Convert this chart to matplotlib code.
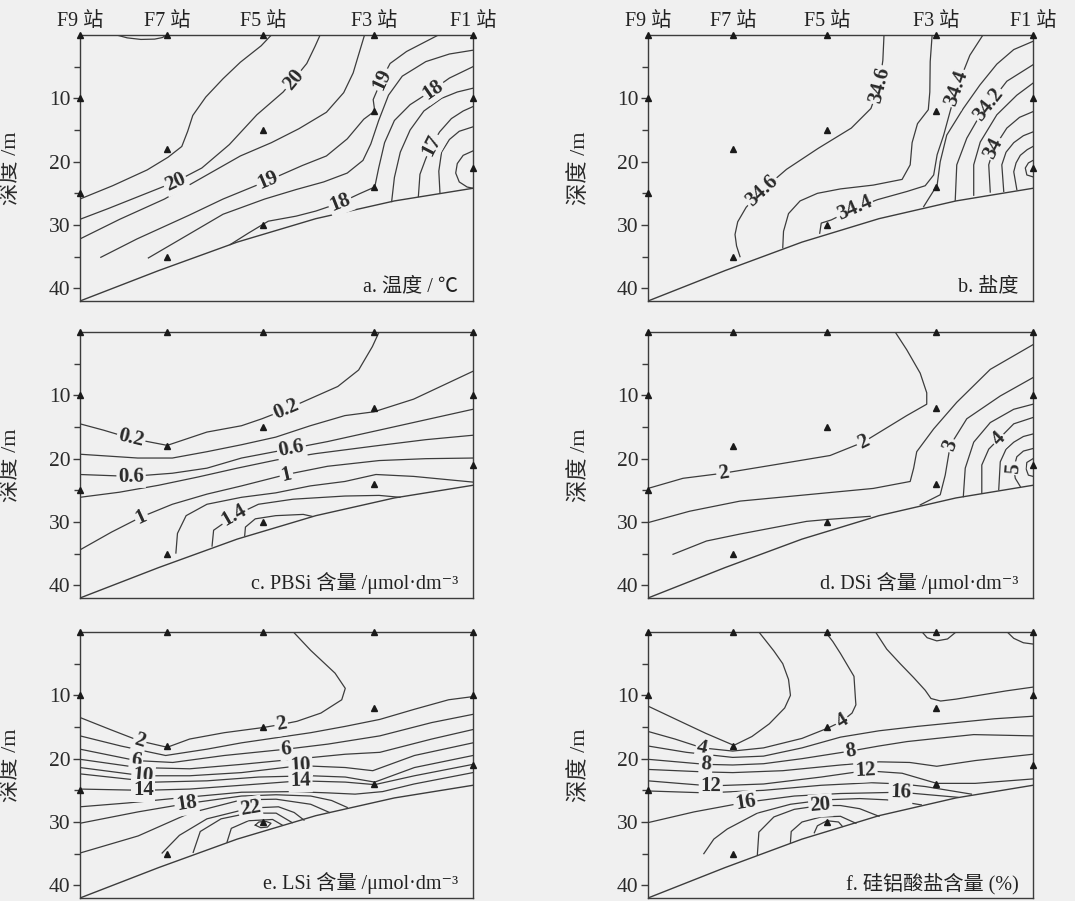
import numpy as np
import matplotlib.pyplot as plt

plt.rcParams['font.family'] = ['Liberation Serif', 'Noto Sans CJK SC', 'DejaVu Serif']

BG = '#f0f0f0'
INK = '#3c3c3c'

# 断面站位（横向距离按 F9=0、F1=100 归一）与采样深度
STATION_X = [0, 22.1, 46.6, 74.8, 100]
STATION_NAMES = ['F9 站', 'F7 站', 'F5 站', 'F3 站', 'F1 站']
SAMPLE_DEPTHS = [[0, 10, 25], [0, 18, 35], [0, 15, 30], [0, 12, 24], [0, 10, 21]]

# 海底地形
SEABED_X = [0, 20, 40, 60, 80, 100]
SEABED_D = [42, 37.2, 32.7, 29.0, 26.2, 24.2]

# 等值线: (数值, 距离, 深度, 标注点序号)
TEMP_LINES = [
    (21, [9.3, 12, 15.5, 19, 21, 21.9], [0, 0.45, 0.7, 0.65, 0.4, 0], []),
    (20.5, [0, 8.3, 17.1, 22.4, 25.9, 27.4, 28.7, 32.0, 36.4, 40.8, 46.1, 48.7],
     [25.9, 23.8, 21.3, 19.3, 17.6, 15.2, 12.7, 9.8, 6.9, 4.3, 1.7, 0], []),
    (20, [0, 7.2, 15.7, 24.2, 31.0, 38.0, 45.0, 51.7, 54.3, 57.7, 59.8, 61.1],
     [29.1, 27.4, 25.3, 23.2, 21.0, 17.3, 12.6, 9.0, 7.1, 4.5, 1.8, 0], [3, 8]),
    (19.5, [0, 10.1, 21.5, 32.0, 40.8, 48.7, 55.7, 62.7, 67.1, 69.5, 70.8, 72.4],
     [32.2, 29.1, 25.9, 22.2, 19.1, 17.0, 14.8, 12.2, 9.1, 6, 3.3, 0], []),
    (19, [5.3, 14.5, 27.6, 36.4, 47.8, 56.6, 62.7, 68.0, 72.2, 75.0, 74.6, 76.8, 78.9, 83.1, 91.2],
     [35.1, 32.2, 28.5, 25.9, 23.0, 20.6, 19.1, 16.4, 13.3, 12.0, 10.2, 7.0, 4.5, 2.6, 0], [4, 11]),
    (18.5, [17.4, 27.6, 36.4, 47, 55, 62, 68, 72, 74, 76, 78.5, 82, 88, 94, 100],
     [35.2, 31.5, 28.3, 25.9, 24.4, 23.2, 21.8, 19.8, 17.2, 13.5, 9.5, 6.5, 4.2, 3.0, 2.4], []),
    (18, [38.2, 42.8, 47.9, 55, 60, 66.2, 71, 75, 76, 77.5, 80, 84, 87.5, 89.9, 94, 100],
     [33.1, 31.3, 29.4, 28.6, 27.8, 26.5, 25.1, 24.0, 21, 17, 13.5, 11, 9.6, 8.6, 6.8, 5.0], [5, 13]),
    (17.5, [79.3, 80, 81.5, 84, 87.5, 92, 96, 100], [26.3, 22.5, 18.5, 15, 12, 10, 9, 8.4], []),
    (17, [86.1, 86.5, 88, 89.5, 91.5, 94.5, 97.5, 100], [25.5, 22, 19.5, 17.4, 15.3, 13.2, 12, 11.3], [3]),
    (16.5, [91.6, 91.3, 92, 94, 96.5, 100], [25.0, 21.5, 18.5, 16.5, 15.2, 14.5], []),
    (16, [100, 97.5, 96, 95.6, 96.5, 98.5, 100], [18.3, 19, 20.3, 21.8, 23.2, 24, 24.2], []),
]

SAL_LINES = [
    (34.6, [61.3, 61.0, 60.1, 57.9, 52.8, 44.2, 36, 29.5, 25.5, 23.3, 22.6, 23.0, 23.9],
     [0, 4, 7.9, 11.6, 14.7, 17.9, 21.2, 24.6, 27.2, 29.5, 31.5, 33.3, 35.0], [2, 7]),
    (34.5, [73.8, 73.3, 73.2, 72.8, 70, 68.6, 68.1, 66, 58.5, 50, 44, 39.5, 36.5, 35.2, 35.0],
     [0, 4.2, 9, 11.8, 14, 17, 20.5, 22.8, 23.7, 24.3, 25, 26.2, 28.2, 31, 33.6], []),
    (34.4, [44.6, 45.0, 47.6, 53.6, 59.6, 67.3, 72, 74.2, 75.1, 76.8, 78.5, 80.2, 83.6, 87],
     [31.3, 29.7, 29.2, 27.4, 26.0, 24.7, 23.8, 22.1, 18.9, 15.8, 12, 8.4, 3.2, 0], [3, 11]),
    (34.3, [71.6, 75.1, 75.9, 77.6, 81.9, 86.2, 90.6, 95, 100], [27.1, 23.7, 20, 15.8, 11.6, 7.9, 4.6, 2.3, 1.0], []),
    (34.2, [79.8, 80.2, 82.8, 86.3, 88.5, 93.2, 100], [26.1, 20.5, 16.3, 12.6, 11.0, 7.3, 4.7], [4]),
    (34.1, [84.6, 84.6, 86.3, 90.6, 95.8, 100], [25.3, 20.5, 16.9, 12.6, 9.5, 7.6], []),
    (34.0, [88.9, 88.5, 89.8, 93.2, 96.5, 100], [24.8, 20.5, 17.9, 14.7, 13, 12.1], [2]),
    (33.9, [92.4, 91.9, 93, 95, 97.5, 100], [24.7, 20.5, 18.5, 17.0, 15.9, 15.3], []),
    (33.8, [95.8, 95, 95.6, 96.7, 98.5, 100], [24.4, 21.6, 20.2, 19, 18.1, 17.6], []),
    (33.7, [100, 98.8, 98, 98.4, 100], [19.8, 20.2, 21, 22.1, 22.4], []),
]

PBSI_LINES = [
    (0.2, [0, 6, 13, 22.2, 32.3, 41.1, 46.3, 52.5, 65.6, 70.9, 74.4, 76.1],
     [14.5, 15.5, 16.8, 17.9, 15.8, 14.8, 13.7, 12.2, 8.6, 6.0, 2.3, 0], [2, 7]),
    (0.4, [0, 14.7, 23.5, 32.3, 41.1, 49.8, 58.6, 67.4, 74.8, 84.9, 100],
     [19.3, 19.9, 19.9, 18.9, 17.8, 16.6, 14.8, 13.2, 12.6, 10.6, 6.2], []),
    (0.6, [0, 13, 23.5, 32.3, 41.1, 53.8, 63, 76.1, 100],
     [22.5, 22.8, 22.3, 21.5, 19.9, 18.4, 17.3, 15.5, 12.2], [1, 5]),
    (0.8, [0, 10, 20, 30, 40, 50, 60, 75, 88, 100],
     [26.1, 25.3, 24.2, 22.9, 21.5, 20.2, 19.2, 18.0, 17.0, 16.3], []),
    (1.0, [0, 8, 15.6, 23.5, 32.3, 41.1, 52.5, 63, 76.1, 88, 100],
     [34.4, 31.6, 29.2, 27.2, 25.6, 24.3, 22.5, 21.2, 20.3, 20.0, 19.9], [2, 6]),
    (1.2, [24.4, 24.8, 27, 32.3, 41.1, 49.8, 58.6, 67.4, 75.3, 84.9, 100],
     [34.9, 31.8, 29.0, 27.2, 26.1, 25.4, 24.3, 23.6, 22.5, 22.8, 23.7], []),
    (1.4, [33.6, 34, 39.3, 45.4, 54.2, 67.4, 76.1, 81.4],
     [33.8, 31.3, 29.0, 27.2, 26.4, 25.9, 25.8, 26.1], [2]),
    (1.6, [41.9, 42.1, 44.6, 49.8, 56.8, 59], [32.2, 30.8, 29.5, 29.0, 28.8, 29.1], []),
]

DSI_LINES = [
    (2, [0, 9.1, 19.5, 32.5, 47.3, 55.9, 62.9, 67.2, 72.4, 72.4, 70.7, 67.2, 64.2],
     [24.7, 23.1, 22.3, 21.0, 19.5, 17.4, 14.8, 13.2, 11.4, 9.6, 6.5, 2.8, 0], [2, 5]),
    (2.5, [0, 10.8, 23.9, 41.2, 58.5, 68.1, 69, 69.8, 74.2, 80.2, 88.9, 100],
     [30.1, 28.3, 26.7, 25.7, 24.7, 23.6, 21.5, 18.9, 15.3, 11.1, 5.9, 2.0], []),
    (2.5, [6.5, 15.2, 23.9, 41.2, 46.6, 57.7], [35.1, 33.0, 31.9, 29.9, 29.6, 29.1], []),
    (3, [70.7, 75.9, 77.2, 78.5, 82.8, 91.5, 100], [27.3, 25.7, 22.6, 17.9, 13.7, 10.1, 7.2], [3]),
    (3.5, [81.9, 82.4, 84.6, 88.9, 95, 100], [26, 21.5, 17.4, 14.3, 12.2, 11.4], []),
    (4, [86.7, 86.7, 88.5, 91.1, 95, 100], [25.4, 21, 18.5, 16.9, 14.5, 13.5], [3]),
    (4.5, [91.1, 91.5, 93, 95, 97.5, 100], [24.9, 20.5, 18.5, 17.4, 16.5, 16.1], []),
    (5, [100, 97.5, 95.8, 95.0, 95.4, 96.7], [18.4, 18.8, 19.7, 21.5, 23.1, 24.4], [3]),
    (5.5, [100, 98.4, 98.2, 98.8, 100], [20, 20.6, 21.6, 22.6, 22.8], []),
]

LSI_LINES = [
    (2, [0, 7.7, 15.2, 22.2, 27.9, 36.7, 46.4, 51.2, 55.2, 61.3, 66.6, 67.5, 64.9, 58.7, 54.3],
     [13.5, 15.4, 17.2, 18.2, 16.9, 15.9, 15.1, 14.6, 14.1, 12.8, 10.7, 8.9, 6.5, 2.9, 0], [2, 7]),
    (4, [0, 10.4, 21.8, 32.3, 41.1, 49.9, 58.7, 67.5, 76.3, 85.1, 93.8, 100],
     [16.4, 18.0, 19.5, 18.5, 17.5, 16.7, 15.9, 14.9, 13.8, 12.2, 10.7, 10.2], []),
    (6, [0, 14.3, 23.6, 36.7, 52.5, 63.1, 76.3, 89.5, 100],
     [18.5, 20.3, 20.6, 19.5, 18.5, 17.7, 16.4, 14.3, 13], [1, 4]),
    (8, [0, 14.8, 27.9, 41.1, 54.3, 67.5, 76.3, 89.5, 100],
     [20.1, 21.4, 21.6, 20.9, 20.1, 19.3, 19.0, 16.9, 15.4], []),
    (10, [0, 16.1, 27.9, 41.1, 56.1, 67.5, 74.5, 85.1, 100],
     [21.4, 22.7, 22.7, 22.2, 21.1, 21.4, 21.9, 19.5, 17.5], [1, 4]),
    (12, [0, 19.2, 32.3, 45.5, 58.7, 67.5, 75, 85.1, 100],
     [22.4, 23.7, 23.5, 22.9, 22.7, 22.9, 23.7, 21.4, 19.5], []),
    (14, [0, 16.1, 27.9, 41.1, 56.1, 67.5, 75, 85.1, 100],
     [24.8, 25.0, 24.8, 24.2, 23.5, 23.7, 24.1, 22.7, 20.9], [1, 4]),
    (16, [0, 12, 23.6, 41.1, 54.3, 63, 70, 77, 85, 100],
     [27.6, 27.0, 26.3, 25.3, 25.2, 25.4, 25.6, 25.2, 24.0, 22.2], []),
    (18, [0, 14.8, 27.1, 41.1, 49.9, 58.7, 64, 68],
     [30.2, 28.4, 27.1, 25.9, 25.7, 25.9, 26.6, 27.7], [2]),
    (20, [0, 14.8, 27.9, 41.1, 49.9, 58.7, 63.5], [34.9, 32.2, 28.6, 26.5, 26.4, 27.2, 28.5], []),
    (22, [20.9, 25.3, 32.3, 43.3, 50.5, 54.5, 57], [34.9, 32.1, 29.5, 27.8, 27.6, 28.5, 29.7], [3]),
    (24, [28.8, 30.6, 35.9, 42.9, 49.9, 54], [34.8, 31.5, 29.5, 28.6, 28.6, 30.1], []),
    (26, [37.4, 38.5, 42.9, 49, 51.5], [33.2, 31, 29.8, 29.6, 30.5], []),
    (28, [44.6, 45.5, 47.3, 48.6, 47.7, 46, 44.6], [30.5, 30.0, 29.9, 30.2, 30.8, 30.9, 30.5], []),
]

ALSI_LINES = [
    (6, [71.2, 72.5, 75, 77.8, 80], [0, 0.9, 1.4, 1.1, 0], []),
    (6, [93.3, 95, 97.5, 100], [0, 1.0, 1.7, 1.9], []),
    (2, [0, 8, 15, 22.3, 27, 31.5, 35.5, 37, 36.5, 35, 32.7, 30.5, 28.8],
     [11.7, 14, 16, 17.9, 16.5, 14.5, 12, 10, 7.5, 5, 3, 1.3, 0], []),
    (4, [0, 7, 14.1, 22, 30, 40, 46.6, 50.4, 53, 54, 53.9, 53.5, 50, 48, 46.1],
     [15.7, 16.9, 18.3, 18.8, 18.3, 16.8, 15.2, 14.1, 12.8, 11.5, 10.7, 7, 3.4, 1.5, 0], [2, 7]),
    (6, [59.1, 62, 65.5, 69, 72, 73.5, 76, 80, 86, 93, 100],
     [0, 2.7, 5, 7.2, 9.2, 10.5, 10.9, 10.6, 10, 9.3, 8.7], []),
    (6, [0, 10, 22, 30, 40, 50, 60, 70, 80, 90, 100],
     [18.0, 19.0, 19.8, 19.6, 18.3, 16.6, 15.6, 14.9, 14.3, 13.7, 13.3], []),
    (8, [0, 15, 22, 30, 40, 52.6, 60, 67.3, 75, 84.6, 100],
     [20.1, 20.9, 21.0, 20.8, 20.0, 18.8, 18.0, 17.3, 16.8, 16.2, 16.4], [1, 5]),
    (10, [0, 15, 22, 35, 50, 60, 68, 75, 85, 100],
     [21.7, 22.1, 22.2, 21.9, 21.0, 20.5, 20.6, 21.2, 20.3, 19.3], []),
    (12, [0, 8, 16.3, 30, 45, 56.5, 66, 75, 85, 100],
     [23.5, 23.9, 24.3, 24.0, 22.9, 21.9, 22.3, 23.9, 23.9, 23.2], [2, 5]),
    (14, [0, 15, 30, 45, 58, 66, 72, 78, 84], [25.1, 25.4, 25.0, 24.2, 23.8, 24.0, 24.4, 25.0, 25.6], []),
    (16, [0, 12, 25.3, 38, 50, 58, 65.6, 73, 80.5],
     [30.1, 28.4, 26.9, 25.9, 25.5, 25.4, 25.3, 25.7, 26.1], [2, 6]),
    (18, [14.5, 17.1, 20.6, 28.4, 37, 46, 55, 62, 68, 71],
     [35.0, 32.7, 31.1, 28.6, 27.2, 26.5, 26.3, 26.5, 27.0, 27.3], []),
    (20, [28.4, 28.8, 32.7, 38, 44.8, 50, 55, 60], [35.2, 31.6, 29.2, 28.0, 27.4, 27.4, 27.9, 29.1], [4]),
    (22, [37, 37.2, 40, 45, 50, 54], [33.2, 31.5, 30.0, 29.2, 29.1, 30.2], []),
    (24, [43.2, 44, 46.5, 49.5, 50.5], [31.7, 30.6, 29.8, 30.0, 30.7], []),
]

PANELS = [
    (TEMP_LINES, 'a. 温度 / ℃'),
    (SAL_LINES, 'b. 盐度'),
    (PBSI_LINES, 'c. PBSi 含量 /μmol·dm⁻³'),
    (DSI_LINES, 'd. DSi 含量 /μmol·dm⁻³'),
    (LSI_LINES, 'e. LSi 含量 /μmol·dm⁻³'),
    (ALSI_LINES, 'f. 硅铝酸盐含量 (%)'),
]

# 画布像素布局
W, H = 1075, 901
COL_LEFT = [80, 648]
COL_WIDTH = [393, 385]
ROW_TOP = [35, 332, 632]
ROW_HEIGHT = 266


def label_angle(ax, xs, ds, i):
    j0, j1 = max(i - 1, 0), min(i + 1, len(xs) - 1)
    p0 = ax.transData.transform((xs[j0], ds[j0]))
    p1 = ax.transData.transform((xs[j1], ds[j1]))
    ang = np.degrees(np.arctan2(p1[1] - p0[1], p1[0] - p0[0]))
    if ang > 90:
        ang -= 180
    elif ang < -90:
        ang += 180
    return ang


def draw_panel(ax, lines, title, top_row):
    ax.set_facecolor(BG)
    ax.set_xlim(0, 100)
    ax.set_ylim(42, 0)

    for level, xs, ds, marks in lines:
        ax.plot(xs, ds, color=INK, lw=0.9, zorder=2)
        for i in marks:
            ax.text(xs[i], ds[i], f'{level:g}', rotation=label_angle(ax, xs, ds, i),
                    rotation_mode='anchor', ha='center', va='center',
                    fontsize=15, fontweight='bold', color='#2a2a2a',
                    bbox=dict(boxstyle='square,pad=0.08', fc=BG, ec='none'), zorder=3)

    ax.plot(SEABED_X, SEABED_D, color=INK, lw=1.0, zorder=2)

    for x, depths in zip(STATION_X, SAMPLE_DEPTHS):
        ax.plot([x] * len(depths), depths, ls='none', marker='^', ms=4.5,
                color='#1a1a1a', clip_on=False, zorder=5)

    if top_row:
        for x, name in zip(STATION_X, STATION_NAMES):
            ax.text(x, 1.015, name, transform=ax.get_xaxis_transform(),
                    ha='center', va='bottom', fontsize=14.5, color='#222222')

    ax.text(0.962, 0.055, title, transform=ax.transAxes, ha='right', va='center',
            fontsize=14.5, color='#222222')

    ax.set_xticks([])
    ax.set_yticks([10, 20, 30, 40])
    ax.set_yticks([5, 15, 25, 35], minor=True)
    ax.tick_params(axis='y', which='major', direction='out', length=5, width=1,
                   colors=INK, labelsize=15.5, labelcolor='#2a2a2a', pad=2)
    ax.tick_params(axis='y', which='minor', direction='out', length=4, width=1, colors=INK)
    ax.set_ylabel('深度 /m', fontsize=16, color='#2a2a2a')
    ax.yaxis.set_label_coords(-0.15, 0.5)
    for sp in ax.spines.values():
        sp.set_color(INK)
        sp.set_linewidth(1.0)


fig = plt.figure(figsize=(W / 100, H / 100), dpi=100, facecolor=BG)
for k, (lines, title) in enumerate(PANELS):
    row, col = divmod(k, 2)
    left = COL_LEFT[col] / W
    bottom = 1 - (ROW_TOP[row] + ROW_HEIGHT) / H
    ax = fig.add_axes([left, bottom, COL_WIDTH[col] / W, ROW_HEIGHT / H])
    draw_panel(ax, lines, title, row == 0)

fig.savefig('out.png', dpi=100, facecolor=BG)
